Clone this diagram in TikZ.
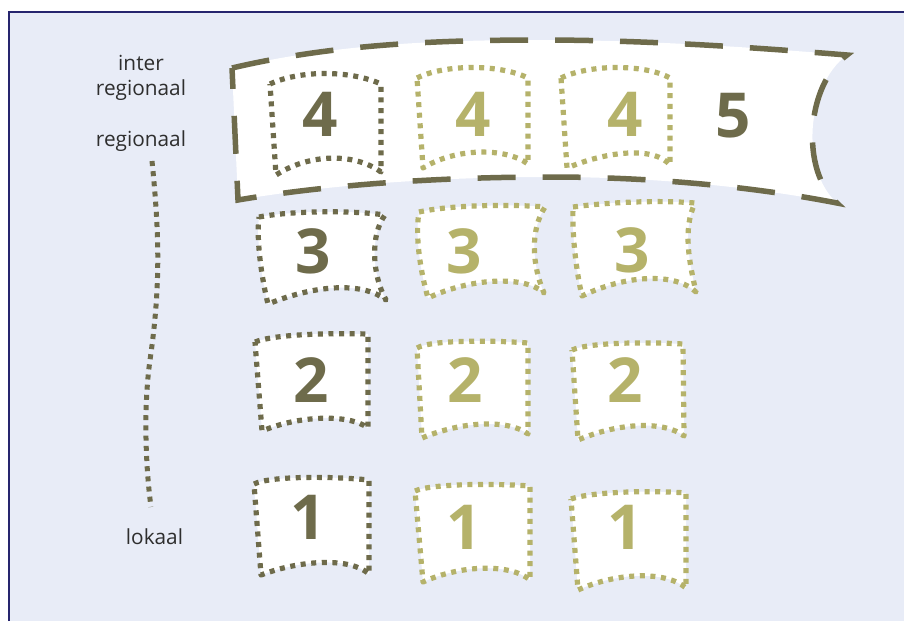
\documentclass[tikz,border=0pt]{standalone}
\usepackage{fontspec}
\setmainfont{Open Sans}
\definecolor{bgc}{HTML}{E8ECF7}
\definecolor{navy}{HTML}{26256E}
\definecolor{olivedark}{HTML}{6E6B4B}
\definecolor{olivelight}{HTML}{B5B26A}
\definecolor{labelc}{HTML}{2E2E2E}
\tikzset{
  dotbox/.style={line width=5.2pt, dash pattern=on 5pt off 5.6pt, fill=white, line join=round},
  darkbox/.style={dotbox, draw=olivedark},
  lightbox/.style={dotbox, draw=olivelight},
  band/.style={draw=olivedark, fill=white, line width=5.5pt, dash pattern=on 38pt off 27pt},
  scaleline/.style={draw=olivedark, line width=5pt, dash pattern=on 5pt off 5.2pt},
  lbl/.style={text=labelc, font=\fontsize{20.8}{24}\selectfont, anchor=base, inner sep=0pt},
  numd/.style={text=olivedark, font=\fontsize{62}{62}\selectfont\bfseries, anchor=base, inner sep=0pt},
  numl/.style={text=olivelight, font=\fontsize{62}{62}\selectfont\bfseries, anchor=base, inner sep=0pt}
}
\begin{document}
\begin{tikzpicture}[x=1pt,y=-1pt]
\useasboundingbox (0,0) rectangle (904,621);
\fill[white] (0,0) rectangle (904,621);
\fill[bgc] (9,12) rectangle (904,621);
\draw[navy, line width=1.2pt] (9,621) -- (9,12) -- (904,12);

% labels
\node[lbl] (linter) at (141,70.5) {inter};
\node[lbl] (linterreg) at (141,95) {regionaal};
\node[lbl] (lreg) at (141,146.5) {regionaal};
\node[lbl] (llok) at (154.5,544) {lokaal};
\coordinate (sctop) at (152,161);
\coordinate (scbot) at (151,507);
\draw[scaleline] (sctop) .. controls (160,240) and (160,290) .. (150,360)
  .. controls (143,410) and (146,470) .. (scbot);

% band
\path[band] (232,68) .. controls (330,45) and (430,40) .. (540,40)
  .. controls (650,40) and (760,48) .. (847,55)
  .. controls (806,85) and (800,170) .. (837,203)
  .. controls (760,188) and (660,177) .. (550,177)
  .. controls (430,177) and (320,186) .. (238,200) -- cycle;

% row 4
\path[darkbox] (270,84) .. controls (300,70) and (350,70) .. (381,84) -- (381,172)
  .. controls (355,153) and (310,153) .. (276,175) -- cycle;
\path[lightbox] (417,78) .. controls (445,64) and (500,64) .. (528,78) -- (528,164)
  .. controls (505,147) and (455,148) .. (423,168) -- cycle;
\path[lightbox] (561,78) .. controls (590,64) and (645,64) .. (670,78) -- (670,165)
  .. controls (655,147) and (610,150) .. (567,168) -- cycle;
\node[numd] (n4a) at (320,136) {4};
\node[numl] (n4b) at (473,136) {4};
\node[numl] (n4c) at (625,136) {4};
\node[numd] (n5) at (733,137) {5};

% row 3
\path[darkbox] (259,217) .. controls (290,211) and (350,210) .. (385,215)
  .. controls (370,235) and (372,275) .. (386,300)
  .. controls (365,283) and (320,283) .. (268,304)
  .. controls (262,280) and (256,240) .. cycle;
\path[lightbox] (419,212) .. controls (450,205) and (510,204) .. (545,207)
  .. controls (530,230) and (532,265) .. (544,293)
  .. controls (525,275) and (470,278) .. (428,298)
  .. controls (420,270) and (415,235) .. cycle;
\path[lightbox] (573,207) .. controls (610,202) and (660,200) .. (695,203)
  .. controls (682,230) and (690,265) .. (696,292)
  .. controls (675,272) and (625,275) .. (582,296)
  .. controls (576,270) and (572,235) .. cycle;
\node[numd] (n3a) at (313,273) {3};
\node[numl] (n3b) at (464,273) {3};
\node[numl] (n3c) at (632,272) {3};

% row 2
\path[darkbox] (255,342) .. controls (275,334) and (330,333) .. (368,334) -- (368,428)
  .. controls (350,414) and (300,415) .. (262,431) -- cycle;
\path[lightbox] (417,348) .. controls (430,340) and (490,340) .. (528,343) -- (528,434)
  .. controls (510,420) and (465,420) .. (422,438) -- cycle;
\path[lightbox] (572,350) .. controls (590,342) and (650,342) .. (683,344) -- (684,436)
  .. controls (665,421) and (620,422) .. (578,440) -- cycle;
\node[numd] (n2a) at (311,402) {2};
\node[numl] (n2b) at (465,402) {2};
\node[numl] (n2c) at (625,402) {2};

% row 1
\path[darkbox] (254,484) .. controls (270,476) and (330,476) .. (369,480) -- (369,574)
  .. controls (350,557) and (300,560) .. (261,575) -- cycle;
\path[lightbox] (415,491) .. controls (430,484) and (490,483) .. (530,486) -- (530,580)
  .. controls (510,563) and (460,565) .. (423,582) -- cycle;
\path[lightbox] (571,499) .. controls (590,492) and (650,490) .. (686,493) -- (686,588)
  .. controls (665,570) and (615,573) .. (578,590) -- cycle;
\node[numd] (n1a) at (308,539) {1};
\node[numl] (n1b) at (464,549) {1};
\node[numl] (n1c) at (625,549) {1};
\end{tikzpicture}
\end{document}
